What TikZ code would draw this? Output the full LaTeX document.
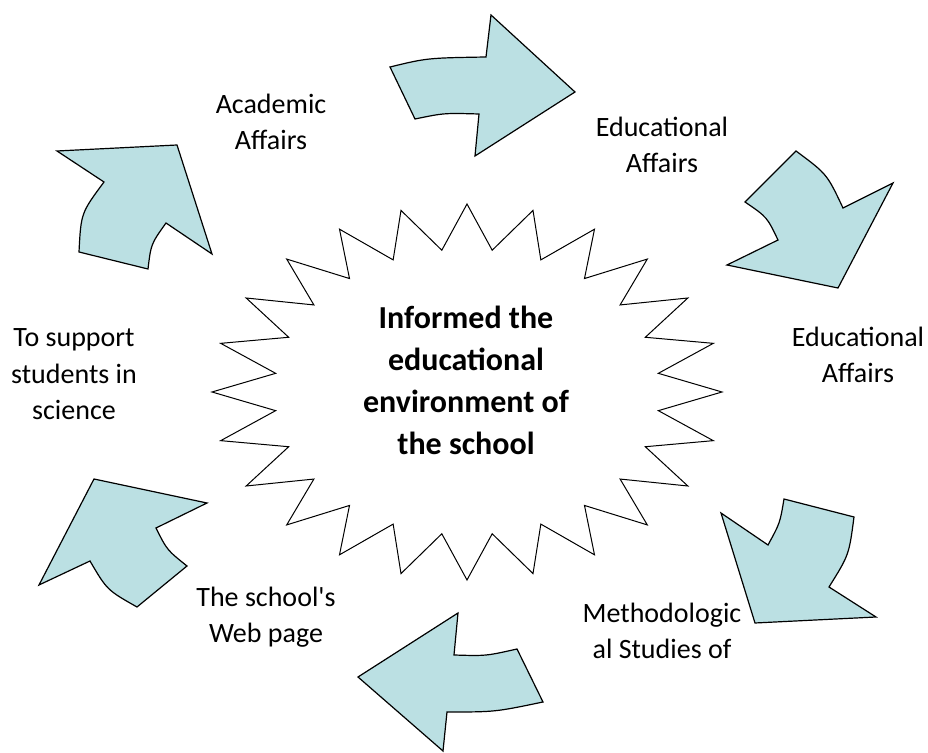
\documentclass[tikz,border=0pt]{standalone}
\usepackage{fontspec}
\setmainfont{Carlito}
\begin{document}
\begin{tikzpicture}[x=0.5pt, y=-0.5pt,
    block-arrow/.style={draw=black, line width=0.6pt, fill=my-teal},
    star-line/.style={draw=black, line width=0.5pt, fill=white},
    label-text/.style={align=center, anchor=base, inner sep=0pt, font=\fontsize{14}{18.25}\selectfont},
    core-text/.style={align=center, anchor=base, inner sep=0pt, font=\bfseries\fontsize{16}{21.15}\selectfont}]
    \def\rX#1{(255-62*isodd(#1))}
    \def\rY#1{(188-45*isodd(#1))}
    \definecolor{my-teal}{RGB}{187,224,227}
    \useasboundingbox (0,0) rectangle (928,753);
    \draw[star-line] plot[samples at={0,...,47}] ({467+\rX{\x}*cos(7.5*\x)},{392-\rY{\x}*sin(7.5*\x)}) -- cycle;
    \draw[block-arrow] (390,67) .. controls (427,58) .. (486,57) -- (491,15) -- (575,92) -- (475,156) -- (479,114) .. controls (444,113) .. (415,119) -- cycle;
    \draw[block-arrow] (796,151) .. controls (827,174) .. (843,208) -- (893,183) -- (838,288) -- (727,265) -- (778,240) .. controls (767,217) .. (745,202) -- cycle;
    \draw[block-arrow] (768,545) .. controls (780,523) .. (784,499) -- (854,517) .. controls (849,555) .. (829,587) -- (876,617) -- (755,623) -- (721,513) -- cycle;
    \draw[block-arrow] (358,677) -- (458,613) -- (454,655) .. controls (486,656) .. (517,649) -- (543,702) .. controls (495,712) .. (447,712) -- (443,751) -- cycle;
    \draw[block-arrow] (94,479) -- (207,503) -- (156,528) .. controls (167,550) .. (187,566) -- (137,607) .. controls (107,590) .. (90,561) -- (39,585) -- cycle;
    \draw[block-arrow] (57,151) -- (177,145) -- (212,254) -- (166,223) .. controls (151,244) .. (148,269) -- (79,252) .. controls (81,213) .. (104,182) -- cycle;
    \node[core-text] (core) at (466,455) {Informed the\\educational\\environment of\\the school};
    \node[label-text] (academic) at (271,150) {Academic\\Affairs};
    \node[label-text] (educational-top) at (662,173) {Educational\\Affairs};
    \node[label-text] (educational-right) at (858,383) {Educational\\Affairs};
    \node[label-text] (methodological) at (662,659) {Methodologic\\al Studies of};
    \node[label-text] (web-page) at (266,643) {The school\textquotesingle s\\Web page};
    \node[label-text] (support) at (74,420) {To support\\students in\\science};
  \end{tikzpicture}
\end{document}
